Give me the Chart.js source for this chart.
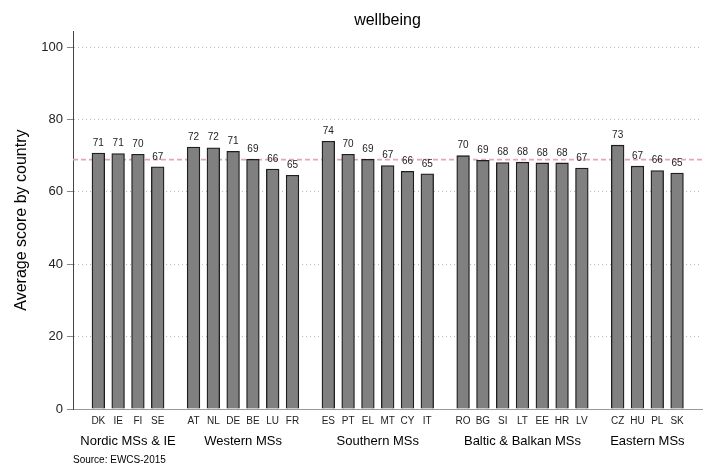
<!DOCTYPE html>
<html>
<head>
<meta charset="utf-8">
<script src="https://cdn.jsdelivr.net/npm/chart.js@4"></script>
<style>
  html, body { margin: 0; padding: 0; background: #fff; }
  canvas { display: block; }
</style>
</head>
<body>
<canvas id="wellbeingChart" width="709" height="468"></canvas>
<script>
// data
const groups = ['Nordic MSs & IE', 'Western MSs', 'Southern MSs', 'Baltic & Balkan MSs', 'Eastern MSs'];
const countries = [
  ['DK', 'IE', 'FI', 'SE'],
  ['AT', 'NL', 'DE', 'BE', 'LU', 'FR'],
  ['ES', 'PT', 'EL', 'MT', 'CY', 'IT'],
  ['RO', 'BG', 'SI', 'LT', 'EE', 'HR', 'LV'],
  ['CZ', 'HU', 'PL', 'SK']
];
const scores = [
  [70.7, 70.6, 70.4, 66.9],
  [72.4, 72.2, 71.2, 69.0, 66.3, 64.6],
  [74.0, 70.4, 69.0, 67.3, 65.7, 65.0],
  [70.0, 68.7, 68.1, 68.2, 68.0, 68.0, 66.6],
  [72.9, 67.1, 65.9, 65.2]
];
const yTicks = [0, 20, 40, 60, 80, 100];
const euAverage = 68.9;

const FONT = '"Liberation Sans", Arial, Helvetica, sans-serif';
Chart.defaults.font.family = FONT;

// bars sit one slot apart, groups get a little extra room
const GAP = 0.81;
const codes = [];
const points = [];
const groupCenters = [];
let slot = 0;
countries.forEach((list, g) => {
  const first = slot + g * GAP;
  list.forEach((code, i) => {
    codes.push(code);
    points.push({ x: slot + g * GAP, y: scores[g][i] });
    slot++;
  });
  groupCenters.push((first + (slot - 1) + g * GAP) / 2);
});
const xMin = -1.28;
const xMax = 30.5;

const meanLine = {
  id: 'meanLine',
  beforeDatasetsDraw(chart) {
    const { ctx, chartArea, scales } = chart;
    const py = scales.y.getPixelForValue(euAverage);
    ctx.save();
    ctx.strokeStyle = '#e4a2c4';
    ctx.lineWidth = 1.6;
    ctx.setLineDash([5, 3]);
    ctx.beginPath();
    ctx.moveTo(chartArea.left, py);
    ctx.lineTo(chartArea.right, py);
    ctx.stroke();
    ctx.restore();
  }
};

const barLabels = {
  id: 'barLabels',
  afterDatasetsDraw(chart) {
    const ctx = chart.ctx;
    const meta = chart.getDatasetMeta(0);
    ctx.save();
    ctx.font = '10px ' + FONT;
    ctx.fillStyle = '#222';
    ctx.textAlign = 'center';
    ctx.textBaseline = 'middle';
    meta.data.forEach((bar, i) => {
      ctx.fillText(Math.round(points[i].y), bar.x, bar.y - 10);
    });
    ctx.restore();
  }
};

const ctx = document.getElementById('wellbeingChart').getContext('2d');
new Chart(ctx, {
  type: 'bar',
  data: {
    datasets: [{
      data: points,
      backgroundColor: '#808080',
      borderColor: '#1e1e1e',
      borderWidth: 1.3,
      barThickness: 12.7
    }]
  },
  options: {
    responsive: false,
    animation: false,
    layout: { padding: { left: 0, right: 7, top: 0, bottom: 0 } },
    plugins: {
      legend: { display: false },
      tooltip: { enabled: false },
      title: {
        display: true,
        text: 'wellbeing',
        fullSize: false,
        color: '#000',
        font: { size: 16, weight: 'normal' },
        padding: { top: 11, bottom: 1 }
      },
      subtitle: {
        display: true,
        text: 'Source: EWCS-2015',
        position: 'bottom',
        align: 'start',
        fullSize: false,
        color: '#000',
        font: { size: 10 },
        padding: { top: 2, bottom: 2 }
      }
    },
    scales: {
      x: {
        type: 'linear',
        min: xMin,
        max: xMax,
        offset: false,
        grid: { display: false, drawTicks: false, offset: false },
        border: { color: '#999', width: 1 },
        ticks: {
          autoSkip: false,
          maxRotation: 0,
          padding: 6,
          color: '#222',
          font: { size: 10 },
          callback: (v, i) => codes[i]
        },
        afterBuildTicks: s => { s.ticks = points.map(p => ({ value: p.x })); },
        afterFit: s => { s.height = 21; }
      },
      x2: {
        type: 'linear',
        position: 'bottom',
        min: xMin,
        max: xMax,
        offset: false,
        grid: { display: false, drawTicks: false, offset: false },
        border: { display: false },
        ticks: {
          autoSkip: false,
          maxRotation: 0,
          padding: 4,
          color: '#000',
          font: { size: 13 },
          callback: (v, i) => groups[i]
        },
        afterBuildTicks: s => { s.ticks = groupCenters.map(v => ({ value: v })); },
        afterFit: s => { s.height = 22; }
      },
      y: {
        min: 0,
        max: 104.4,
        afterBuildTicks: s => { s.ticks = yTicks.map(v => ({ value: v })); },
        afterFit: s => { s.width = 73; },
        grid: {
          color: c => (c.tick && c.tick.value === 0) ? 'rgba(0,0,0,0)' : '#bdbdbd',
          tickColor: '#888',
          tickLength: 6,
          lineWidth: 1
        },
        border: { color: '#444', width: 1, dash: [1, 3] },
        ticks: { padding: 4, color: '#222', font: { size: 13 } },
        title: {
          display: true,
          text: 'Average score by country',
          color: '#000',
          font: { size: 16 },
          padding: { top: 12, bottom: 0 }
        }
      }
    }
  },
  plugins: [meanLine, barLabels]
});
</script>
</body>
</html>
